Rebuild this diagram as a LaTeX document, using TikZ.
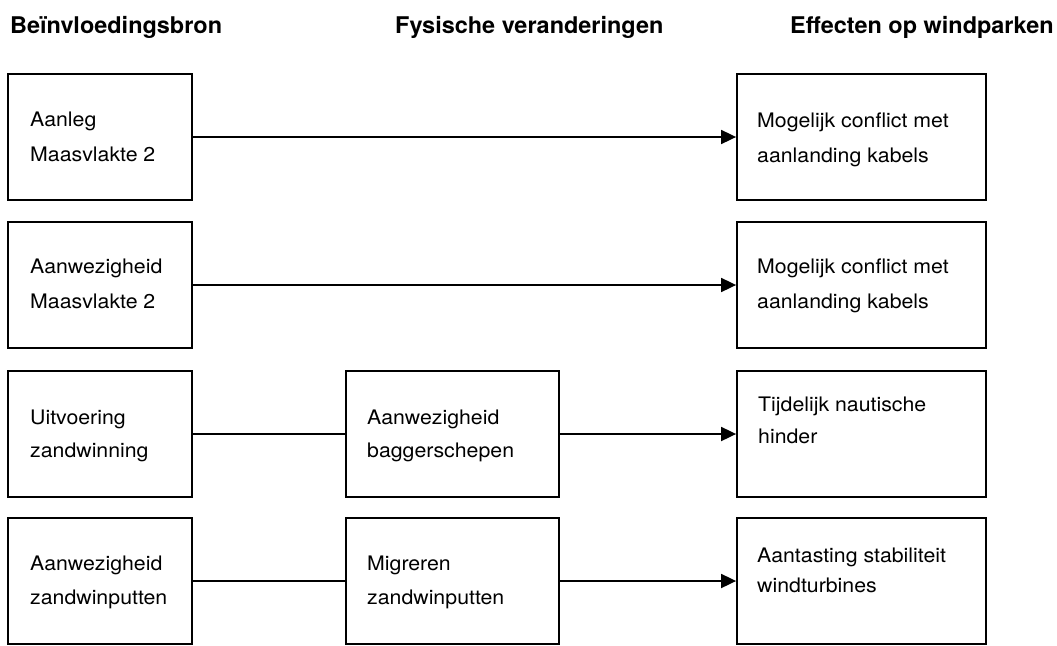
\documentclass[tikz,border=0pt]{standalone}
\usepackage{fontspec}
\usetikzlibrary{arrows.meta}
\newfontfamily\bodyfont[FakeStretch=1.065]{TeX Gyre Heros}
\newfontfamily\headfont[FakeStretch=1.02]{TeX Gyre Heros}
% two text lines; the baseline of the whole is that of the first line
\newcommand\duoline[3]{\vtop{\baselineskip=#1\hbox{#2}\hbox{#3}}}

\begin{document}
\begin{tikzpicture}[x=1pt,y=-1pt,
  box/.style={draw, line width=1.8pt, inner sep=0, minimum height=126pt},
  srcbox/.style={box, minimum width=184pt},
  midbox/.style={box, minimum width=213pt},
  effbox/.style={box, minimum width=249pt},
  lbl/.style={anchor=base west, inner sep=0,
    font=\bodyfont\fontsize{20}{34}\selectfont},
  head/.style={anchor=base west, inner sep=0,
    font=\headfont\bfseries\fontsize{23}{28}\selectfont},
  link/.style={line width=1.8pt},
  arrow/.style={link, -{Triangle[length=15pt,width=14pt]}}]

\useasboundingbox (0,0) rectangle (1057,645);

% column headings
\node[head] (h1) at (10,33) {Beïnvloedingsbron};
\node[head] (h2) at (395,33) {Fysische veranderingen};
\node[head] (h3) at (790,33) {Effecten op windparken};

% row 1
\node[srcbox] (s1) at (100,137) {};
\node[effbox] (e1) at (861.5,137) {};
\node[lbl] (ts1) at (30,126) {\duoline{35pt}{Aanleg}{Maasvlakte 2}};
\node[lbl] (te1) at (757,127) {\duoline{35pt}{Mogelijk conflict met}{aanlanding kabels}};
\draw[arrow] (s1.east) -- (e1.west);

% row 2
\node[srcbox] (s2) at (100,285) {};
\node[effbox] (e2) at (861.5,285) {};
\node[lbl] (ts2) at (30,273) {\duoline{35pt}{Aanwezigheid}{Maasvlakte 2}};
\node[lbl] (te2) at (757,273) {\duoline{35pt}{Mogelijk conflict met}{aanlanding kabels}};
\draw[arrow] (s2.east) -- (e2.west);

% row 3
\node[srcbox] (s3) at (100,434) {};
\node[midbox] (m3) at (452.5,434) {};
\node[effbox] (e3) at (861.5,434) {};
\node[lbl] (ts3) at (30,424) {\duoline{33pt}{Uitvoering}{zandwinning}};
\node[lbl] (tm3) at (367,424) {\duoline{33pt}{Aanwezigheid}{baggerschepen}};
\node[lbl] (te3) at (758,411) {\duoline{32pt}{Tijdelijk nautische}{hinder}};
\draw[link] (s3.east) -- (m3.west);
\draw[arrow] (m3.east) -- (e3.west);

% row 4
\node[srcbox] (s4) at (100,581) {};
\node[midbox] (m4) at (452.5,581) {};
\node[effbox] (e4) at (861.5,581) {};
\node[lbl] (ts4) at (30,570) {\duoline{34pt}{Aanwezigheid}{zandwinputten}};
\node[lbl] (tm4) at (367,570) {\duoline{34pt}{Migreren}{zandwinputten}};
\node[lbl] (te4) at (757,562) {\duoline{30pt}{Aantasting stabiliteit}{windturbines}};
\draw[link] (s4.east) -- (m4.west);
\draw[arrow] (m4.east) -- (e4.west);
\end{tikzpicture}
\end{document}
